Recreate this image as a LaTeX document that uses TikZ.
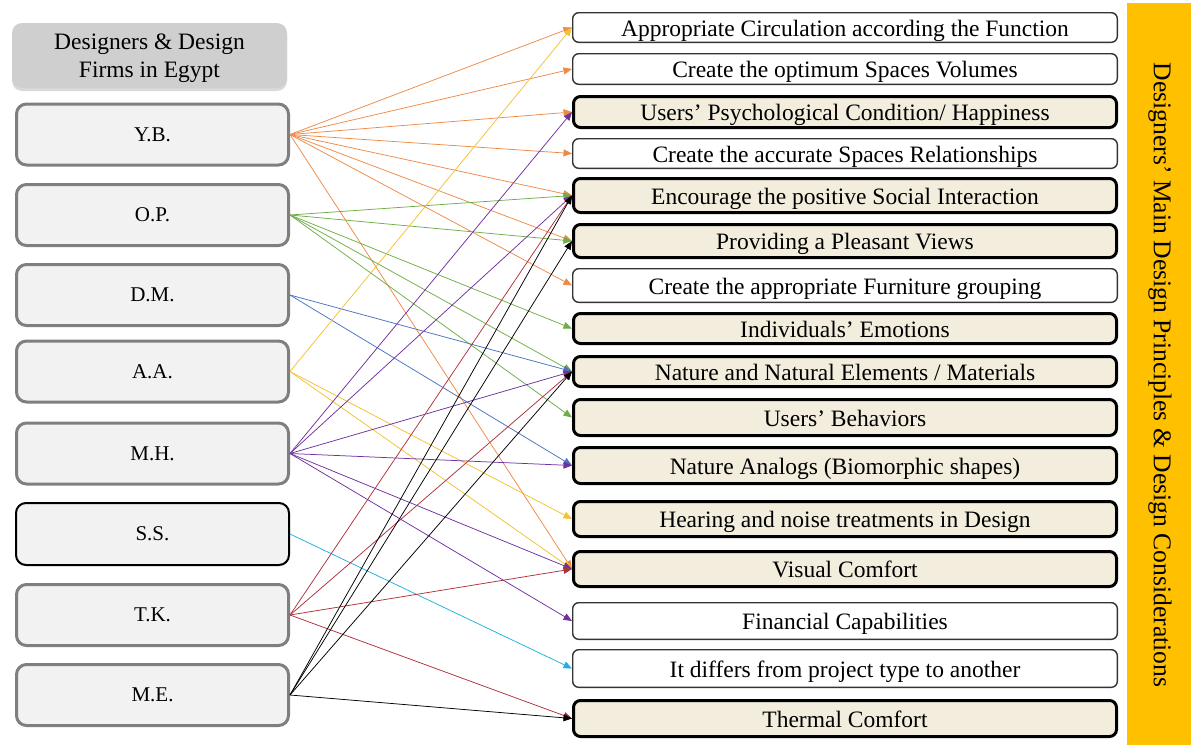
\documentclass[tikz,border=0pt]{standalone}
\usepackage{fontspec}
\setmainfont{Liberation Serif}
\usetikzlibrary{arrows.meta,shadows}

\definecolor{firmfill}{HTML}{F2F2F2}
\definecolor{firmline}{HTML}{7F7F7F}
\definecolor{headfill}{HTML}{CFCFCF}
\definecolor{tan}{HTML}{F2EDDC}
\definecolor{barfill}{HTML}{FFC000}
\definecolor{cYB}{HTML}{EE8A45}
\definecolor{cOP}{HTML}{70AD47}
\definecolor{cDM}{HTML}{4A72C0}
\definecolor{cAA}{HTML}{F2C230}
\definecolor{cMH}{HTML}{7030A0}
\definecolor{cSS}{HTML}{1FB0E0}
\definecolor{cTK}{HTML}{B0303A}
\definecolor{cME}{HTML}{000000}

\tikzset{
  firm/.style={draw=firmline, line width=3pt, fill=firmfill, rounded corners=10pt,
    minimum width=272pt, minimum height=61pt, inner sep=0pt,
    font=\fontsize{21}{25}\selectfont},
  head/.style={fill=headfill, rounded corners=10pt, minimum width=275pt,
    minimum height=65pt, inner sep=0pt,
    drop shadow={shadow xshift=0pt, shadow yshift=-3pt, opacity=.3}},
  headtext/.style={align=center, inner sep=0pt, font=\fontsize{23.5}{28.5}\selectfont},
  plainbox/.style={draw=black!80, line width=1.4pt, fill=white, rounded corners=6pt,
    minimum width=544.6pt, inner sep=0pt, text height=22pt, text depth=5pt,
    font=\fontsize{23.5}{27}\selectfont},
  tanbox/.style={draw=black, line width=3pt, fill=tan, rounded corners=7pt,
    minimum width=543pt, inner sep=0pt, text height=22pt, text depth=5pt,
    font=\fontsize{23.5}{27}\selectfont},
  link/.style={line width=0.75pt, -{Triangle[length=8.5pt,width=7pt]}},
}

\begin{document}
\begin{tikzpicture}[x=1pt, y=-1pt]
\useasboundingbox (0,0) rectangle (1191,745);

% heading of the firms column
\node[head] (head) at (149.5,55.5) {};
\node[headtext, yshift=-2.5pt] (headlabel) at (head.center) {Designers \& Design\\Firms in Egypt};

% firms
\node[firm] (yb) at (152.5,134.5) {Y.B.};
\node[firm] (op) at (152.5,215)   {O.P.};
\node[firm] (dm) at (152.5,295)   {D.M.};
\node[firm] (aa) at (152.5,371.5) {A.A.};
\node[firm] (mh) at (152.5,453.5) {M.H.};
\node[firm, draw=black, line width=2pt, minimum width=273pt, minimum height=62pt] (ss) at (152.5,534) {S.S.};
\node[firm] (tk) at (152.5,615)   {T.K.};
\node[firm] (me) at (152.5,695)   {M.E.};

% design principles and considerations
\node[plainbox, minimum height=29.6pt] (r1)  at (845,27.5)  {Appropriate Circulation according the Function};
\node[plainbox, minimum height=30.6pt] (r2)  at (845,69)    {Create the optimum Spaces Volumes};
\node[tanbox,   minimum height=31pt]   (r3)  at (845,112)   {Users’ Psychological Condition/ Happiness};
\node[plainbox, minimum height=29.6pt] (r4)  at (845,153.5) {Create the accurate Spaces Relationships};
\node[tanbox,   minimum height=34pt]   (r5)  at (845,195.5) {Encourage the positive Social Interaction};
\node[tanbox,   minimum height=33pt]   (r6)  at (845,241)   {Providing a Pleasant Views};
\node[plainbox, minimum height=33.6pt] (r7)  at (845,285.5) {Create the appropriate Furniture grouping};
\node[tanbox,   minimum height=30pt]   (r8)  at (845,328.5) {Individuals’ Emotions};
\node[tanbox,   minimum height=30pt]   (r9)  at (845,371.5) {Nature and Natural Elements / Materials};
\node[tanbox,   minimum height=36pt]   (r10) at (845,417.5) {Users’ Behaviors};
\node[tanbox,   minimum height=36pt]   (r11) at (845,465.5) {Nature Analogs (Biomorphic shapes)};
\node[tanbox,   minimum height=35pt]   (r12) at (845,519)   {Hearing and noise treatments in Design};
\node[tanbox,   minimum height=35pt]   (r13) at (845,569)   {Visual Comfort};
\node[plainbox, minimum height=36.6pt] (r14) at (845,621)   {Financial Capabilities};
\node[plainbox, minimum height=37.6pt] (r15) at (845,668.5) {It differs from project type to another};
\node[tanbox,   minimum height=36pt]   (r16) at (845,718.5) {Thermal Comfort};

% side band
\node[fill=barfill, minimum width=64pt, minimum height=742pt, inner sep=0pt] (band) at (1159,374) {};
\node[rotate=-90, font=\fontsize{25.6}{30}\selectfont] (bandtext) at (1160,375)
  {Designers’ Main Design Principles \& Design Considerations};

% links from each firm to its principles
\foreach \t in {r1,r2,r3,r4,r5,r6,r7,r13}
  \draw[link, cYB] (yb.east) -- (\t.west);
\foreach \t in {r5,r6,r8,r9,r10}
  \draw[link, cOP] (op.east) -- (\t.west);
\foreach \t in {r9,r11}
  \draw[link, cDM] (dm.east) -- (\t.west);
\foreach \t in {r1,r12,r13}
  \draw[link, cAA] (aa.east) -- (\t.west);
\foreach \t in {r3,r5,r9,r11,r13,r14}
  \draw[link, cMH] (mh.east) -- (\t.west);
\foreach \t in {r15}
  \draw[link, cSS] (ss.east) -- (\t.west);
\foreach \t in {r5,r9,r13,r16}
  \draw[link, cTK] (tk.east) -- (\t.west);
\foreach \t in {r5,r6,r9,r16}
  \draw[link, cME] (me.east) -- (\t.west);

\end{tikzpicture}
\end{document}
